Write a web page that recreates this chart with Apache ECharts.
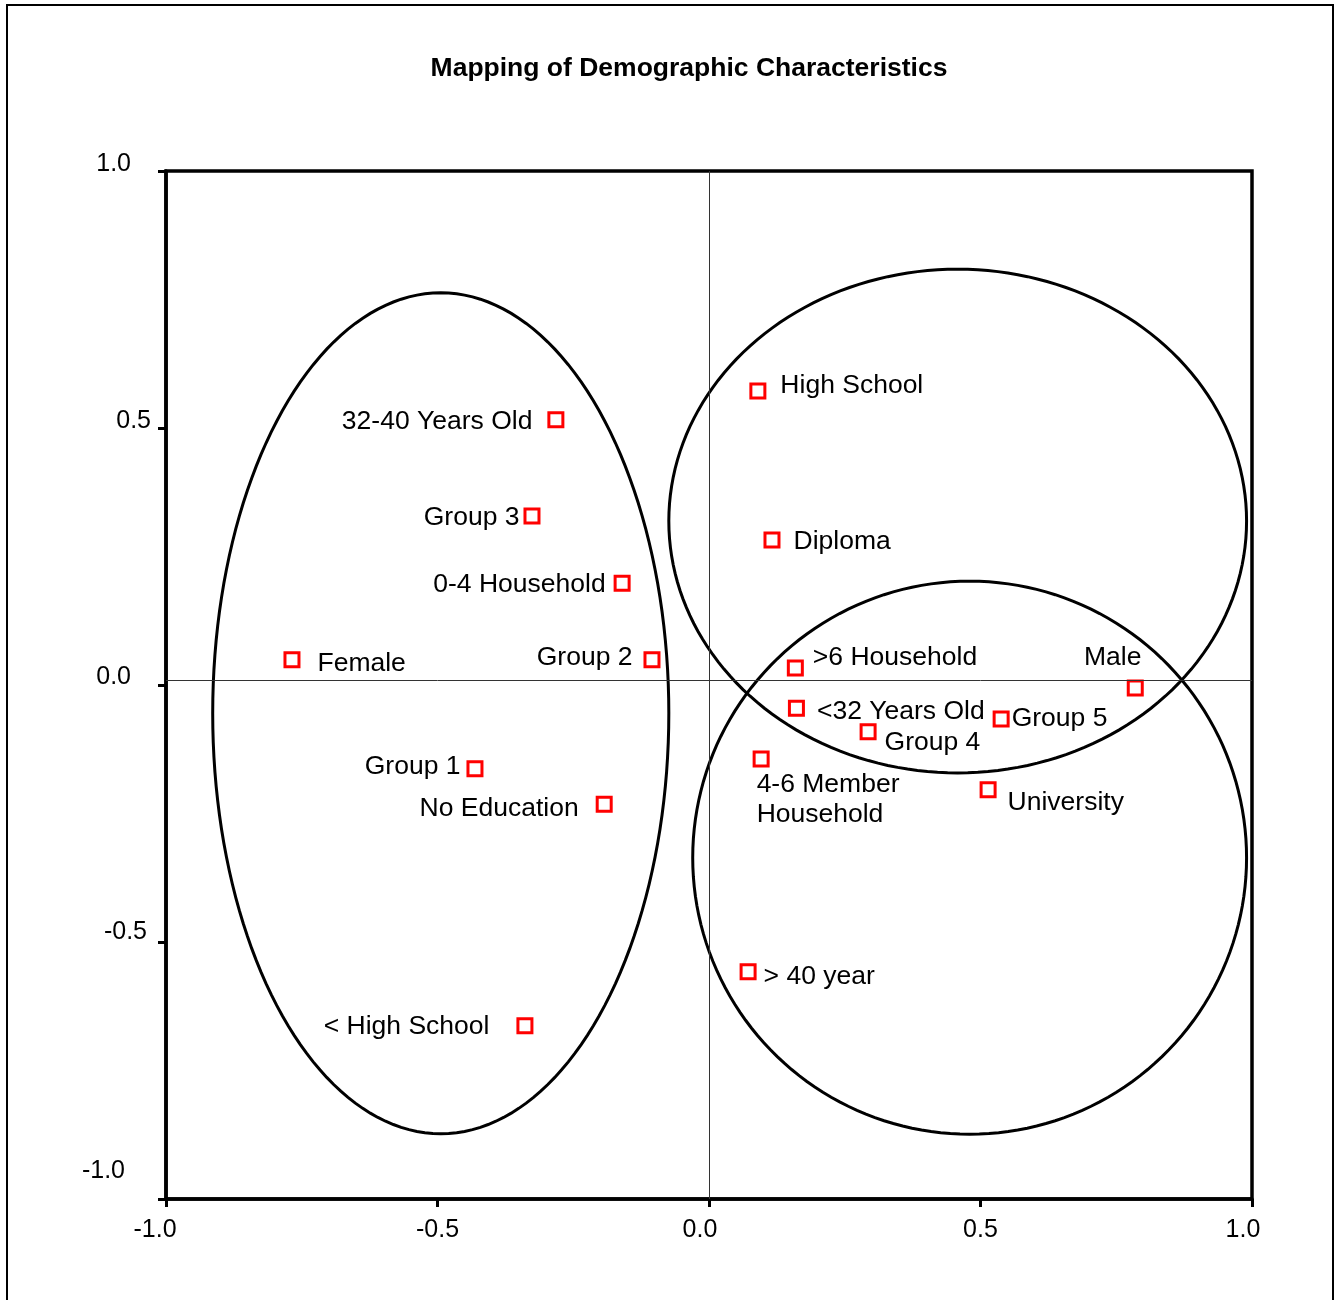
<!DOCTYPE html>
<html>
<head>
<meta charset="utf-8">
<title>Mapping of Demographic Characteristics</title>
<script src="https://cdn.jsdelivr.net/npm/echarts@6/dist/echarts.min.js"></script>
<style>
  html, body { margin: 0; padding: 0; background: #fff; }
  #main { width: 1341px; height: 1300px; }
</style>
</head>
<body>
<div id="main"></div>
<script>
// points
var pointNames = ['High School', 'Diploma', '32-40 Years Old', 'Group 3', '0-4 Household',
  'Female', 'Group 2', 'Group 1', 'No Education', '< High School', '>6 Household',
  '<32 Years Old', 'Group 4', 'Group 5', 'Male', '4-6 Member\nHousehold', 'University', '> 40 year'];
var pointX = [0.090, 0.116, -0.282, -0.326, -0.160, -0.768, -0.105, -0.431, -0.193, -0.339,
  0.159, 0.161, 0.293, 0.538, 0.785, 0.096, 0.514, 0.072];
var pointY = [0.572, 0.282, 0.516, 0.329, 0.198, 0.049, 0.049, -0.163, -0.232, -0.663,
  0.033, -0.045, -0.091, -0.066, -0.006, -0.144, -0.204, -0.558];

// group ellipses: centre and radii
var ellipseCx = [-0.494, 0.458, 0.480];
var ellipseCy = [-0.055, 0.319, -0.336];
var ellipseRx = [0.420, 0.532, 0.510];
var ellipseRy = [0.818, 0.490, 0.538];

var xTicks = [-1.0, -0.5, 0.0, 0.5, 1.0];
var yTicks = [-1.0, -0.5, 0.0, 0.5, 1.0];
var refX = 0.003;
var refY = 0.013;

// where each label sits next to its square: align, dx, dy (from square centre)
var labelPos = {
  'High School': ['left', 24, -4],
  'Diploma': ['left', 23, 3],
  '32-40 Years Old': ['right', -22, 3],
  'Group 3': ['right', -11, 3],
  '0-4 Household': ['right', -15, 3],
  'Female': ['left', 27, 5],
  'Group 2': ['right', -18, -1],
  'Group 1': ['right', -13, -1],
  'No Education': ['right', -24, 6],
  '< High School': ['right', -34, 2],
  '>6 Household': ['left', 19, -9],
  '<32 Years Old': ['left', 22, 5],
  'Group 4': ['left', 18, 12],
  'Group 5': ['left', 12, 1],
  'Male': ['center', -21, -29],
  '4-6 Member\nHousehold': ['left', -3, 42],
  'University': ['left', 21, 14],
  '> 40 year': ['left', 17, 6]
};

// tick label nudges: [extra gap, shift]
var yNudge = { '1.0': [20, 7], '0.5': [0, 7], '0.0': [20, 8], '-0.5': [4, 10], '-1.0': [26, 28] };
var xNudge = { '-1.0': 11, '-0.5': 0, '0.0': 9, '0.5': 0, '1.0': 9 };

var font = 'Liberation Sans, Arial, Helvetica, sans-serif';
var symSize = 14;

var scatterData = pointNames.map(function (n, i) {
  var p = labelPos[n];
  return {
    name: n,
    value: [pointX[i], pointY[i]],
    label: {
      position: [symSize / 2 + p[1], symSize / 2 + p[2]],
      align: p[0],
      verticalAlign: 'middle'
    }
  };
});

var ellipseData = ellipseCx.map(function (c, i) {
  return [c, ellipseCy[i], ellipseRx[i], ellipseRy[i]];
});

var yRich = {}, xRich = {};
yTicks.forEach(function (v, i) {
  var k = v.toFixed(1), n = yNudge[k];
  yRich['y' + i] = { fontSize: 25, color: '#000', fontFamily: font, padding: [0, n[0], n[1] * 2, 0] };
});
xTicks.forEach(function (v, i) {
  var k = v.toFixed(1);
  xRich['x' + i] = { fontSize: 25, color: '#000', fontFamily: font, padding: [0, xNudge[k] * 2, 0, 0] };
});

var myChart = echarts.init(document.getElementById('main'), null, { renderer: 'canvas' });
var option = {
  backgroundColor: '#fff',
  animation: false,
  title: {
    text: 'Mapping of Demographic Characteristics',
    left: 689,
    top: 55,
    textAlign: 'center',
    padding: 0,
    textStyle: { fontSize: 26.5, fontWeight: 'bold', color: '#000', fontFamily: font }
  },
  graphic: [{
    type: 'rect',
    shape: { x: 7, y: 5, width: 1326, height: 1320 },
    style: { fill: null, stroke: '#000', lineWidth: 2 },
    silent: true
  }],
  grid: {
    left: 166, right: 89, top: 171, bottom: 101,
    show: true, borderColor: '#000', borderWidth: 3.5, backgroundColor: 'transparent'
  },
  xAxis: {
    type: 'value', min: -1, max: 1, interval: 0.5,
    splitLine: { show: false },
    axisLine: { show: true, onZero: false, lineStyle: { color: '#000', width: 3.5 } },
    axisTick: { show: true, length: 8, lineStyle: { color: '#000', width: 3 } },
    axisLabel: {
      margin: 19,
      formatter: function (v) {
        var i = xTicks.indexOf(Math.round(v * 10) / 10);
        return '{x' + i + '|' + v.toFixed(1) + '}';
      },
      rich: xRich
    }
  },
  yAxis: {
    type: 'value', min: -1, max: 1, interval: 0.5,
    splitLine: { show: false },
    axisLine: { show: true, onZero: false, lineStyle: { color: '#000', width: 3.5 } },
    axisTick: { show: true, length: 8, lineStyle: { color: '#000', width: 3 } },
    axisLabel: {
      margin: 15,
      formatter: function (v) {
        var i = yTicks.indexOf(Math.round(v * 10) / 10);
        return '{y' + i + '|' + v.toFixed(1) + '}';
      },
      rich: yRich
    }
  },
  series: [
    {
      type: 'custom',
      silent: true,
      data: ellipseData,
      renderItem: function (params, api) {
        var cx = api.value(0), cy = api.value(1), rx = api.value(2), ry = api.value(3);
        var pts = [];
        for (var k = 0; k <= 180; k++) {
          var t = k / 180 * Math.PI * 2;
          pts.push(api.coord([cx + rx * Math.cos(t), cy + ry * Math.sin(t)]));
        }
        return {
          type: 'polyline',
          shape: { points: pts },
          style: { stroke: '#000', lineWidth: 3, fill: null }
        };
      },
      z: 3
    },
    {
      type: 'scatter',
      data: scatterData,
      symbol: 'rect',
      symbolSize: symSize,
      itemStyle: { color: '#fff', borderColor: '#ff0000', borderWidth: 3, opacity: 1 },
      label: {
        show: true,
        color: '#000',
        fontSize: 26.5,
        lineHeight: 30,
        fontFamily: font,
        formatter: function (p) { return p.name; }
      },
      labelLayout: { hideOverlap: false },
      markLine: {
        silent: true,
        symbol: 'none',
        label: { show: false },
        lineStyle: { color: '#333', width: 1, type: 'solid' },
        data: [{ xAxis: refX }, { yAxis: refY }]
      },
      z: 4
    }
  ]
};

myChart.setOption(option);
window.onresize = function () {
  myChart.resize();
};
</script>
</body>
</html>
